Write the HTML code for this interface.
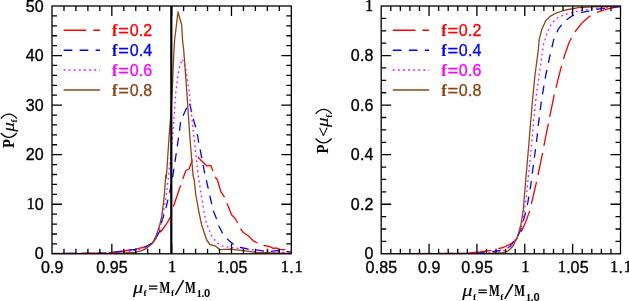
<!DOCTYPE html>
<html><head><meta charset="utf-8"><title>plot</title>
<style>
html,body{margin:0;padding:0;background:#fff;}
body{width:629px;height:301px;overflow:hidden;}
svg{display:block;will-change:transform;}
text{font-family:"Liberation Sans",sans-serif;}
.tk{font-size:16px;fill:#000;stroke:#000;stroke-width:0.35;}
.s1{font-family:"Liberation Serif",serif;font-size:16.6px;}
.lt{font-size:16px;stroke-width:0.32;}
.lf{font-family:"Liberation Serif",serif;font-weight:bold;font-size:16.3px;stroke-width:0.1;}
.ax{font-family:"Liberation Serif",serif;font-size:17.2px;fill:#000;stroke:#000;stroke-width:0.15;}
.mm{stroke-width:0.1;font-size:17.4px;font-weight:bold;}
.lts{font-size:17px;stroke-width:0.25;}
.it{font-style:italic;}
.par{font-size:18px;}
.sub{font-family:"Liberation Serif",serif;font-size:9.2px;font-weight:bold;fill:#000;}
.sub2{font-size:10px;font-weight:bold;fill:#000;}
.s1b{font-family:"Liberation Serif",serif;font-size:10.8px;}
</style></head><body>
<svg width="629" height="301" viewBox="0 0 629 301">
<rect width="629" height="301" fill="#fff"/>
<defs><clipPath id="c1"><rect x="52.0" y="6.0" width="239.3" height="247.8"/></clipPath><clipPath id="c2"><rect x="381.2" y="6.0" width="239.3" height="247.8"/></clipPath></defs>
<g clip-path="url(#c1)">
<path d="M52.0 253.5 L90.0 253.2 L100.0 253.0 L111.6 252.5 L123.3 251.0 L134.9 249.2 L146.5 246.5 L152.3 243.2 L156.0 238.5 L160.5 232.0 L165.8 225.0 L170.8 216.7 L173.7 205.8 L180.8 185.0 L183.3 177.5 L185.8 170.8 L189.2 168.7 L192.5 159.2 L195.0 157.5 L197.5 156.7 L202.5 161.7 L206.7 165.8 L210.8 165.3 L212.5 170.0 L215.0 176.7 L217.5 180.0 L220.8 191.7 L224.2 196.7 L226.7 202.5 L230.0 210.8 L231.7 215.0 L235.0 218.3 L237.5 222.5 L240.8 229.2 L243.3 232.5 L248.3 235.8 L253.3 240.8 L257.5 243.0 L264.2 245.5 L270.0 246.7 L273.3 248.3 L276.7 248.0 L280.0 249.7 L285.8 249.7 L291.0 250.5" fill="none" stroke="#ff0000" stroke-width="1.3" stroke-linejoin="round" stroke-dasharray="22.6 6.5" stroke-dashoffset="1.1"/>
<path d="M52.0 253.6 L90.0 253.4 L100.0 253.2 L111.6 252.7 L123.3 251.2 L134.9 249.4 L146.5 246.5 L152.3 243.0 L156.0 237.5 L158.1 234.3 L161.0 228.5 L161.7 221.7 L164.2 214.0 L166.3 206.7 L168.3 198.0 L170.0 191.0 L172.5 178.0 L176.0 155.0 L179.5 131.0 L180.8 120.0 L184.2 113.3 L189.2 102.5 L190.0 105.0 L193.0 118.0 L195.8 127.5 L197.5 135.0 L198.7 142.5 L201.7 157.5 L204.7 173.3 L208.0 187.5 L211.7 204.0 L213.3 210.8 L216.7 219.2 L218.7 225.8 L222.5 233.3 L227.5 239.2 L234.2 245.0 L240.8 247.5 L248.3 249.2 L263.3 250.8 L271.7 251.3 L280.0 250.0 L291.0 252.2" fill="none" stroke="#0000ff" stroke-width="1.3" stroke-linejoin="round" stroke-dasharray="8.7 7.0" stroke-dashoffset="1.3"/>
<path d="M52.0 253.6 L100.0 253.4 L111.6 253.0 L123.3 252.0 L134.9 250.5 L146.5 247.3 L152.3 243.3 L156.0 236.8 L158.5 231.0 L160.8 225.0 L163.3 213.0 L166.3 195.0 L168.3 178.0 L172.8 135.0 L176.0 90.0 L178.8 70.0 L182.0 59.0 L185.3 66.0 L189.0 90.0 L193.7 135.0 L198.5 178.0 L200.8 191.7 L203.3 208.0 L206.7 225.0 L207.5 225.8 L211.7 235.8 L216.7 242.5 L221.7 245.8 L230.0 247.5 L246.7 249.2 L261.7 250.8 L291.0 252.5" fill="none" stroke="#ff00ff" stroke-width="1.3" stroke-linejoin="round" stroke-dasharray="1.8 3.3" stroke-dashoffset="0"/>
<path d="M52.0 253.7 L100.0 253.6 L111.6 253.3 L125.0 253.0 L134.9 252.3 L141.0 250.8 L146.5 248.3 L152.3 243.6 L155.8 236.6 L157.8 231.0 L159.7 225.0 L161.7 216.7 L164.2 196.7 L165.8 175.0 L166.3 178.0 L169.2 135.0 L171.0 112.0 L172.3 90.0 L173.3 65.0 L174.0 50.0 L174.6 40.0 L178.0 12.0 L181.7 25.0 L182.5 40.0 L183.7 50.0 L186.7 90.0 L189.7 135.0 L193.0 175.0 L194.2 180.0 L195.8 195.0 L199.2 213.3 L201.7 225.0 L203.3 230.0 L206.7 240.0 L210.0 244.5 L215.0 245.8 L220.0 249.7 L230.0 249.2 L245.0 250.8 L256.7 252.5 L291.0 253.3" fill="none" stroke="#8b4513" stroke-width="1.3" stroke-linejoin="round"/>
</g>
<line x1="171.3" y1="6.0" x2="171.3" y2="253.8" stroke="#000" stroke-width="2.2"/>
<g clip-path="url(#c2)">
<path d="M381.0 253.6 L446.0 253.5 L463.3 253.3 L480.0 252.0 L493.3 250.0 L503.3 247.5 L511.7 243.3 L518.3 237.5 L522.5 229.0 L525.8 221.7 L529.7 210.8 L531.7 202.5 L535.8 185.0 L538.0 175.0 L542.5 153.3 L545.0 140.0 L548.3 124.0 L549.7 116.7 L554.2 95.0 L555.8 88.3 L561.3 66.7 L564.7 55.0 L569.3 42.0 L574.8 32.0 L582.1 22.8 L589.4 16.4 L596.7 12.4 L607.6 8.8 L620.0 6.4" fill="none" stroke="#ff0000" stroke-width="1.3" stroke-linejoin="round" stroke-dasharray="22.6 7.1" stroke-dashoffset="1.1"/>
<path d="M381.0 253.6 L471.7 253.5 L488.3 252.5 L500.0 250.3 L510.0 246.7 L518.3 235.0 L520.8 230.0 L523.3 220.8 L525.8 211.7 L528.0 201.7 L530.8 185.0 L536.7 140.0 L538.3 125.0 L541.5 100.0 L545.8 75.0 L550.1 55.0 L553.8 39.3 L558.3 29.2 L563.8 21.9 L571.1 16.4 L580.3 12.8 L593.0 10.0 L607.6 7.7 L620.0 6.5" fill="none" stroke="#0000ff" stroke-width="1.3" stroke-linejoin="round" stroke-dasharray="8.7 7.3" stroke-dashoffset="0.6"/>
<path d="M381.0 253.6 L480.0 253.5 L495.0 252.6 L504.0 250.5 L511.0 246.0 L516.5 238.0 L520.8 230.0 L523.3 218.0 L525.8 201.7 L527.5 185.0 L532.0 140.0 L533.7 120.0 L536.3 95.0 L539.2 75.0 L541.9 55.0 L543.7 43.8 L547.4 32.0 L552.0 22.8 L558.3 17.3 L567.5 13.7 L578.4 11.0 L593.0 8.8 L607.6 7.3 L620.0 6.5" fill="none" stroke="#ff00ff" stroke-width="1.3" stroke-linejoin="round" stroke-dasharray="1.8 3.3" stroke-dashoffset="0"/>
<path d="M381.0 253.6 L488.3 253.5 L501.7 253.0 L508.3 250.8 L513.3 245.8 L517.5 236.7 L518.0 235.0 L520.8 225.0 L523.3 210.0 L525.3 185.0 L529.2 140.0 L530.8 120.0 L533.0 95.0 L535.0 75.0 L538.3 50.0 L539.2 39.3 L541.9 29.2 L545.6 21.0 L550.1 16.4 L556.5 12.8 L565.6 10.0 L578.4 7.7 L593.0 6.9 L620.0 6.3" fill="none" stroke="#8b4513" stroke-width="1.3" stroke-linejoin="round"/>
</g>
<rect x="52.0" y="6.0" width="239.30" height="247.80" fill="none" stroke="#000" stroke-width="1.3"/>
<path d="M63.97 253.8v-5M63.97 6.0v5M75.93 253.8v-5M75.93 6.0v5M87.90 253.8v-5M87.90 6.0v5M99.86 253.8v-5M99.86 6.0v5M111.83 253.8v-10M111.83 6.0v10M123.79 253.8v-5M123.79 6.0v5M135.75 253.8v-5M135.75 6.0v5M147.72 253.8v-5M147.72 6.0v5M159.68 253.8v-5M159.68 6.0v5M171.65 253.8v-10M171.65 6.0v10M183.61 253.8v-5M183.61 6.0v5M195.58 253.8v-5M195.58 6.0v5M207.54 253.8v-5M207.54 6.0v5M219.51 253.8v-5M219.51 6.0v5M231.47 253.8v-10M231.47 6.0v10M243.44 253.8v-5M243.44 6.0v5M255.40 253.8v-5M255.40 6.0v5M267.37 253.8v-5M267.37 6.0v5M279.34 253.8v-5M279.34 6.0v5M52.0 243.89h5M291.3 243.89h-5M52.0 233.98h5M291.3 233.98h-5M52.0 224.06h5M291.3 224.06h-5M52.0 214.15h5M291.3 214.15h-5M52.0 204.24h10M291.3 204.24h-10M52.0 194.33h5M291.3 194.33h-5M52.0 184.42h5M291.3 184.42h-5M52.0 174.50h5M291.3 174.50h-5M52.0 164.59h5M291.3 164.59h-5M52.0 154.68h10M291.3 154.68h-10M52.0 144.77h5M291.3 144.77h-5M52.0 134.86h5M291.3 134.86h-5M52.0 124.94h5M291.3 124.94h-5M52.0 115.03h5M291.3 115.03h-5M52.0 105.12h10M291.3 105.12h-10M52.0 95.21h5M291.3 95.21h-5M52.0 85.30h5M291.3 85.30h-5M52.0 75.38h5M291.3 75.38h-5M52.0 65.47h5M291.3 65.47h-5M52.0 55.56h10M291.3 55.56h-10M52.0 45.65h5M291.3 45.65h-5M52.0 35.74h5M291.3 35.74h-5M52.0 25.82h5M291.3 25.82h-5M52.0 15.91h5M291.3 15.91h-5" stroke="#000" stroke-width="1.3" fill="none"/>
<rect x="381.2" y="6.0" width="239.30" height="247.80" fill="none" stroke="#000" stroke-width="1.3"/>
<path d="M390.77 253.8v-5M390.77 6.0v5M400.34 253.8v-5M400.34 6.0v5M409.92 253.8v-5M409.92 6.0v5M419.49 253.8v-5M419.49 6.0v5M429.06 253.8v-10M429.06 6.0v10M438.63 253.8v-5M438.63 6.0v5M448.20 253.8v-5M448.20 6.0v5M457.78 253.8v-5M457.78 6.0v5M467.35 253.8v-5M467.35 6.0v5M476.92 253.8v-10M476.92 6.0v10M486.49 253.8v-5M486.49 6.0v5M496.06 253.8v-5M496.06 6.0v5M505.64 253.8v-5M505.64 6.0v5M515.21 253.8v-5M515.21 6.0v5M524.78 253.8v-10M524.78 6.0v10M534.35 253.8v-5M534.35 6.0v5M543.92 253.8v-5M543.92 6.0v5M553.50 253.8v-5M553.50 6.0v5M563.07 253.8v-5M563.07 6.0v5M572.64 253.8v-10M572.64 6.0v10M582.21 253.8v-5M582.21 6.0v5M591.78 253.8v-5M591.78 6.0v5M601.36 253.8v-5M601.36 6.0v5M610.93 253.8v-5M610.93 6.0v5M381.2 241.41h5M620.5 241.41h-5M381.2 229.02h5M620.5 229.02h-5M381.2 216.63h5M620.5 216.63h-5M381.2 204.24h10M620.5 204.24h-10M381.2 191.85h5M620.5 191.85h-5M381.2 179.46h5M620.5 179.46h-5M381.2 167.07h5M620.5 167.07h-5M381.2 154.68h10M620.5 154.68h-10M381.2 142.29h5M620.5 142.29h-5M381.2 129.90h5M620.5 129.90h-5M381.2 117.51h5M620.5 117.51h-5M381.2 105.12h10M620.5 105.12h-10M381.2 92.73h5M620.5 92.73h-5M381.2 80.34h5M620.5 80.34h-5M381.2 67.95h5M620.5 67.95h-5M381.2 55.56h10M620.5 55.56h-10M381.2 43.17h5M620.5 43.17h-5M381.2 30.78h5M620.5 30.78h-5M381.2 18.39h5M620.5 18.39h-5" stroke="#000" stroke-width="1.3" fill="none"/>
<line x1="63.6" y1="30.3" x2="99.9" y2="30.3" stroke="#ff0000" stroke-width="1.4" stroke-dasharray="22.6 7.1"/>
<text x="112.00" y="36.20" class="lf" fill="#ff0000" stroke="#ff0000">f</text>
<text x="118.30" y="36.20" class="lt" textLength="10.60" lengthAdjust="spacingAndGlyphs" fill="#ff0000" stroke="#ff0000">=</text>
<text x="129.65" y="36.20" class="lt" fill="#ff0000" stroke="#ff0000">0</text><text x="138.80" y="36.20" class="lt" fill="#ff0000" stroke="#ff0000">.</text><text x="143.25" y="36.20" class="lt" fill="#ff0000" stroke="#ff0000">2</text>
<line x1="63.6" y1="50.2" x2="99.9" y2="50.2" stroke="#0000ff" stroke-width="1.4" stroke-dasharray="8.7 7.3"/>
<text x="112.00" y="56.10" class="lf" fill="#0000ff" stroke="#0000ff">f</text>
<text x="118.30" y="56.10" class="lt" textLength="10.60" lengthAdjust="spacingAndGlyphs" fill="#0000ff" stroke="#0000ff">=</text>
<text x="129.65" y="56.10" class="lt" fill="#0000ff" stroke="#0000ff">0</text><text x="138.80" y="56.10" class="lt" fill="#0000ff" stroke="#0000ff">.</text><text x="143.25" y="56.10" class="lt" fill="#0000ff" stroke="#0000ff">4</text>
<line x1="63.6" y1="70.0" x2="99.9" y2="70.0" stroke="#ff00ff" stroke-width="1.4" stroke-dasharray="1.8 3.3"/>
<text x="112.00" y="75.90" class="lf" fill="#ff00ff" stroke="#ff00ff">f</text>
<text x="118.30" y="75.90" class="lt" textLength="10.60" lengthAdjust="spacingAndGlyphs" fill="#ff00ff" stroke="#ff00ff">=</text>
<text x="129.65" y="75.90" class="lt" fill="#ff00ff" stroke="#ff00ff">0</text><text x="138.80" y="75.90" class="lt" fill="#ff00ff" stroke="#ff00ff">.</text><text x="143.25" y="75.90" class="lt" fill="#ff00ff" stroke="#ff00ff">6</text>
<line x1="63.6" y1="90.0" x2="99.9" y2="90.0" stroke="#8b4513" stroke-width="1.4"/>
<text x="112.00" y="95.90" class="lf" fill="#8b4513" stroke="#8b4513">f</text>
<text x="118.30" y="95.90" class="lt" textLength="10.60" lengthAdjust="spacingAndGlyphs" fill="#8b4513" stroke="#8b4513">=</text>
<text x="129.65" y="95.90" class="lt" fill="#8b4513" stroke="#8b4513">0</text><text x="138.80" y="95.90" class="lt" fill="#8b4513" stroke="#8b4513">.</text><text x="143.25" y="95.90" class="lt" fill="#8b4513" stroke="#8b4513">8</text>
<line x1="392.8" y1="30.3" x2="429.1" y2="30.3" stroke="#ff0000" stroke-width="1.4" stroke-dasharray="22.6 7.1"/>
<text x="441.20" y="36.20" class="lf" fill="#ff0000" stroke="#ff0000">f</text>
<text x="447.50" y="36.20" class="lt" textLength="10.60" lengthAdjust="spacingAndGlyphs" fill="#ff0000" stroke="#ff0000">=</text>
<text x="458.85" y="36.20" class="lt" fill="#ff0000" stroke="#ff0000">0</text><text x="468.00" y="36.20" class="lt" fill="#ff0000" stroke="#ff0000">.</text><text x="472.45" y="36.20" class="lt" fill="#ff0000" stroke="#ff0000">2</text>
<line x1="392.8" y1="50.2" x2="429.1" y2="50.2" stroke="#0000ff" stroke-width="1.4" stroke-dasharray="8.7 7.3"/>
<text x="441.20" y="56.10" class="lf" fill="#0000ff" stroke="#0000ff">f</text>
<text x="447.50" y="56.10" class="lt" textLength="10.60" lengthAdjust="spacingAndGlyphs" fill="#0000ff" stroke="#0000ff">=</text>
<text x="458.85" y="56.10" class="lt" fill="#0000ff" stroke="#0000ff">0</text><text x="468.00" y="56.10" class="lt" fill="#0000ff" stroke="#0000ff">.</text><text x="472.45" y="56.10" class="lt" fill="#0000ff" stroke="#0000ff">4</text>
<line x1="392.8" y1="70.0" x2="429.1" y2="70.0" stroke="#ff00ff" stroke-width="1.4" stroke-dasharray="1.8 3.3"/>
<text x="441.20" y="75.90" class="lf" fill="#ff00ff" stroke="#ff00ff">f</text>
<text x="447.50" y="75.90" class="lt" textLength="10.60" lengthAdjust="spacingAndGlyphs" fill="#ff00ff" stroke="#ff00ff">=</text>
<text x="458.85" y="75.90" class="lt" fill="#ff00ff" stroke="#ff00ff">0</text><text x="468.00" y="75.90" class="lt" fill="#ff00ff" stroke="#ff00ff">.</text><text x="472.45" y="75.90" class="lt" fill="#ff00ff" stroke="#ff00ff">6</text>
<line x1="392.8" y1="90.0" x2="429.1" y2="90.0" stroke="#8b4513" stroke-width="1.4"/>
<text x="441.20" y="95.90" class="lf" fill="#8b4513" stroke="#8b4513">f</text>
<text x="447.50" y="95.90" class="lt" textLength="10.60" lengthAdjust="spacingAndGlyphs" fill="#8b4513" stroke="#8b4513">=</text>
<text x="458.85" y="95.90" class="lt" fill="#8b4513" stroke="#8b4513">0</text><text x="468.00" y="95.90" class="lt" fill="#8b4513" stroke="#8b4513">.</text><text x="472.45" y="95.90" class="lt" fill="#8b4513" stroke="#8b4513">8</text>
<text x="40.90" y="272.50" class="tk">0</text><text x="50.05" y="272.50" class="tk">.</text><text x="54.50" y="272.50" class="tk">9</text>
<text x="96.17" y="272.50" class="tk">0</text><text x="105.32" y="272.50" class="tk">.</text><text x="109.77" y="272.50" class="tk">9</text><text x="118.87" y="272.50" class="tk">5</text>
<text x="168.00" y="272.10" class="tk s1">1</text>
<text x="216.48" y="272.10" class="tk s1">1</text><text x="224.98" y="272.50" class="tk">.</text><text x="229.43" y="272.50" class="tk">0</text><text x="238.53" y="272.50" class="tk">5</text>
<text x="280.85" y="272.10" class="tk s1">1</text><text x="289.35" y="272.50" class="tk">.</text><text x="294.45" y="272.10" class="tk s1">1</text>
<text x="365.55" y="272.50" class="tk">0</text><text x="374.70" y="272.50" class="tk">.</text><text x="379.15" y="272.50" class="tk">8</text><text x="388.25" y="272.50" class="tk">5</text>
<text x="417.96" y="272.50" class="tk">0</text><text x="427.11" y="272.50" class="tk">.</text><text x="431.56" y="272.50" class="tk">9</text>
<text x="461.27" y="272.50" class="tk">0</text><text x="470.42" y="272.50" class="tk">.</text><text x="474.87" y="272.50" class="tk">9</text><text x="483.97" y="272.50" class="tk">5</text>
<text x="521.13" y="272.10" class="tk s1">1</text>
<text x="557.64" y="272.10" class="tk s1">1</text><text x="566.14" y="272.50" class="tk">.</text><text x="570.59" y="272.50" class="tk">0</text><text x="579.69" y="272.50" class="tk">5</text>
<text x="610.05" y="272.10" class="tk s1">1</text><text x="618.55" y="272.50" class="tk">.</text><text x="623.65" y="272.10" class="tk s1">1</text>
<text x="34.85" y="259.30" class="tk">0</text>
<text x="26.40" y="209.34" class="tk s1">1</text><text x="34.85" y="209.74" class="tk">0</text>
<text x="25.75" y="160.18" class="tk">2</text><text x="34.85" y="160.18" class="tk">0</text>
<text x="25.75" y="110.62" class="tk">3</text><text x="34.85" y="110.62" class="tk">0</text>
<text x="25.75" y="61.06" class="tk">4</text><text x="34.85" y="61.06" class="tk">0</text>
<text x="25.75" y="11.50" class="tk">5</text><text x="34.85" y="11.50" class="tk">0</text>
<text x="364.45" y="259.30" class="tk">0</text>
<text x="350.85" y="209.74" class="tk">0</text><text x="360.00" y="209.74" class="tk">.</text><text x="364.45" y="209.74" class="tk">2</text>
<text x="350.85" y="160.18" class="tk">0</text><text x="360.00" y="160.18" class="tk">.</text><text x="364.45" y="160.18" class="tk">4</text>
<text x="350.85" y="110.62" class="tk">0</text><text x="360.00" y="110.62" class="tk">.</text><text x="364.45" y="110.62" class="tk">6</text>
<text x="350.85" y="61.06" class="tk">0</text><text x="360.00" y="61.06" class="tk">.</text><text x="364.45" y="61.06" class="tk">8</text>
<text x="365.10" y="11.10" class="tk s1">1</text>
<text x="132.90" y="292.50" class="ax it" textLength="10.20" lengthAdjust="spacingAndGlyphs">μ</text><text x="143.50" y="296.20" class="sub">f</text><path d="M149.00 286.20H157.40M149.00 288.80H157.40" stroke="#000" stroke-width="1.25" fill="none"/><text x="159.60" y="292.50" class="ax mm" textLength="10.80" lengthAdjust="spacingAndGlyphs">M</text><text x="170.90" y="296.20" class="sub">f</text><line x1="175.4" y1="295" x2="183.6" y2="280.2" stroke="#000" stroke-width="1.5"/><text x="184.90" y="292.50" class="ax mm" textLength="10.80" lengthAdjust="spacingAndGlyphs">M</text><text x="196.40" y="296.90" class="sub2 s1b">1</text><text x="201.40" y="296.90" class="sub2">.</text><text x="204.00" y="296.90" class="sub2" textLength="6.20" lengthAdjust="spacingAndGlyphs">0</text>
<text x="462.30" y="296.40" class="ax it" textLength="10.20" lengthAdjust="spacingAndGlyphs">μ</text><text x="472.90" y="300.10" class="sub">f</text><path d="M478.40 290.10H486.80M478.40 292.70H486.80" stroke="#000" stroke-width="1.25" fill="none"/><text x="489.00" y="296.40" class="ax mm" textLength="10.80" lengthAdjust="spacingAndGlyphs">M</text><text x="500.30" y="300.10" class="sub">f</text><line x1="504.8" y1="298.9" x2="513.0" y2="284.09999999999997" stroke="#000" stroke-width="1.5"/><text x="514.30" y="296.40" class="ax mm" textLength="10.80" lengthAdjust="spacingAndGlyphs">M</text><text x="525.80" y="300.80" class="sub2 s1b">1</text><text x="530.80" y="300.80" class="sub2">.</text><text x="533.40" y="300.80" class="sub2" textLength="6.20" lengthAdjust="spacingAndGlyphs">0</text>
<g transform="translate(13.5,147.9) rotate(-90)"><text x="-0.20" y="0.00" class="ax mm" textLength="8.90" lengthAdjust="spacingAndGlyphs">P</text><path d="M14.90 -12.7C9.10 -7.5 9.10 -1.7 14.90 3.3" fill="none" stroke="#000" stroke-width="1.15"/><text x="16.10" y="0.00" class="ax it" textLength="9.60" lengthAdjust="spacingAndGlyphs">μ</text><text x="25.40" y="3.60" class="sub">f</text><path d="M29.40 -12.7C35.20 -7.5 35.20 -1.7 29.40 3.3" fill="none" stroke="#000" stroke-width="1.15"/></g>
<g transform="translate(328.3,153.4) rotate(-90)"><text x="-0.20" y="0.00" class="ax mm" textLength="8.90" lengthAdjust="spacingAndGlyphs">P</text><path d="M14.90 -12.7C9.10 -7.5 9.10 -1.7 14.90 3.3" fill="none" stroke="#000" stroke-width="1.15"/><text x="16.60" y="0.60" class="ax lts" textLength="9.60" lengthAdjust="spacingAndGlyphs">&lt;</text><text x="26.30" y="0.00" class="ax it" textLength="9.60" lengthAdjust="spacingAndGlyphs">μ</text><text x="35.60" y="3.60" class="sub">f</text><path d="M39.60 -12.7C45.40 -7.5 45.40 -1.7 39.60 3.3" fill="none" stroke="#000" stroke-width="1.15"/></g>
</svg>
</body></html>
